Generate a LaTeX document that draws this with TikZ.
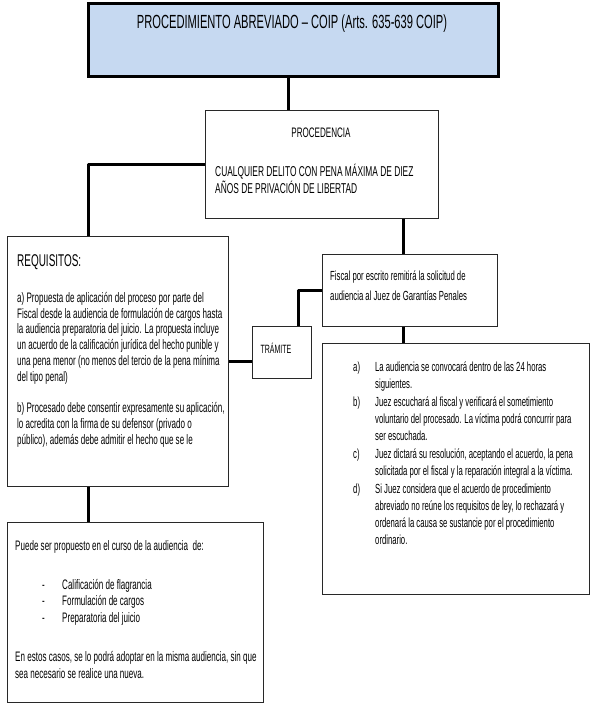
\documentclass[tikz,border=0pt]{standalone}
\usepackage{fontspec}
\setmainfont[FakeStretch=0.586]{Liberation Sans}
\usetikzlibrary{calc}
\definecolor{titlefill}{RGB}{198,217,241}
\definecolor{boxline}{RGB}{40,40,40}
\newcommand{\topstrut}[1]{\rule{0pt}{#1}}
\begin{document}
\begin{tikzpicture}[x=1pt,y=-1pt,
  box/.style={draw=boxline,line width=1.4pt,inner sep=0pt,anchor=north west,fill=white},
  link/.style={line width=3pt,draw=black,line join=round},
  txt/.style={inner sep=0pt,anchor=north west,align=left,text=black},
  lbl/.style={inner sep=0pt,text=black}
]
\fill[white] (0,0) rectangle (591,709);
\useasboundingbox (0,0) rectangle (591,709);

% boxes
\node[box,line width=3pt,draw=black,fill=titlefill,minimum width=410pt,minimum height=73pt] (title) at (87,2) {};
\node[box,minimum width=233pt,minimum height=108pt] (proc) at (205,110) {};
\node[box,minimum width=221pt,minimum height=250pt] (req) at (7,236) {};
\node[box,minimum width=175pt,minimum height=72pt] (fisc) at (322,254) {};
\node[box,minimum width=59pt,minimum height=52pt] (tram) at (252,326) {};
\node[box,minimum width=267pt,minimum height=251pt] (list) at (322,343) {};
\node[box,minimum width=256pt,minimum height=180pt] (bot) at (7,522) {};

% connectors
\coordinate (c1) at ([xshift=-5pt]title.south);
\draw[link] (c1) -- (c1 |- proc.north);
\coordinate (c2) at ($(req.north west)+(81,0)$);
\draw[link] (proc.west) -| (c2);
\coordinate (c3) at ([xshift=-6.5pt]fisc.north);
\draw[link] (c3 |- proc.south) -- (c3);
\coordinate (c5) at ([xshift=-6.5pt]fisc.south);
\draw[link] (c5) -- (c5 |- list.north);
\coordinate (c4) at ([xshift=16.5pt]tram.north);
\draw[link] (fisc.west) -| (c4);
\draw[link] (req.east) -- (req.east -| tram.west);
\draw[link] (c2 |- req.south) -- (c2 |- bot.north);

% texts
\node[lbl,font=\fontsize{19}{22}\selectfont] (t1) at (292,24) {PROCEDIMIENTO ABREVIADO – COIP (Arts. 635-639 COIP)};
\node[lbl,font=\fontsize{13.75}{16}\selectfont] (t2) at (321,133) {PROCEDENCIA};
\node[txt,font=\fontsize{14.3}{17}\selectfont] (t3) at (215,161.85) {\topstrut{14.3pt}CUALQUIER DELITO CON PENA MÁXIMA DE DIEZ\\AÑOS DE PRIVACIÓN DE LIBERTAD};
\node[lbl,font=\fontsize{17}{20}\selectfont,anchor=west] (t4) at (17,262) {REQUISITOS:};
\node[txt,font=\fontsize{13.75}{15.8}\selectfont] (t5) at (17,288.35) {\topstrut{13.75pt}a) Propuesta de aplicación del proceso por parte del\\
Fiscal desde la audiencia de formulación de cargos hasta\\
la audiencia preparatoria del juicio. La propuesta incluye\\
un acuerdo de la calificación jurídica del hecho punible y\\
una pena menor (no menos del tercio de la pena mínima\\
del tipo penal)\\[15.8pt]
b) Procesado debe consentir expresamente su aplicación,\\
lo acredita con la firma de su defensor (privado o\\
público), además debe admitir el hecho que se le};
\node[lbl,font=\fontsize{12}{14}\selectfont] (t6) at (276,348) {TRÁMITE};
\node[txt,font=\fontsize{13.2}{20}\selectfont] (t7) at (330,267.3) {\topstrut{13.2pt}Fiscal por escrito remitirá la solicitud de\\audiencia al Juez de Garantías Penales};
\node[txt,font=\fontsize{13.2}{17}\selectfont] (t8) at (353,357.8) {\topstrut{13.2pt}\makebox[22pt][l]{a)}La audiencia se convocará dentro de las 24 horas\\
\hspace*{22pt}siguientes.\\[1pt]
\makebox[22pt][l]{b)}Juez escuchará al fiscal y verificará el sometimiento\\
\hspace*{22pt}voluntario del procesado. La víctima podrá concurrir para\\
\hspace*{22pt}ser escuchada.\\[1pt]
\makebox[22pt][l]{c)}Juez dictará su resolución, aceptando el acuerdo, la pena\\
\hspace*{22pt}solicitada por el fiscal y la reparación integral a la víctima.\\[1pt]
\makebox[22pt][l]{d)}Si Juez considera que el acuerdo de procedimiento\\
\hspace*{22pt}abreviado no reúne los requisitos de ley, lo rechazará y\\
\hspace*{22pt}ordenará la causa se sustancie por el procedimiento\\
\hspace*{22pt}ordinario.};
\node[lbl,font=\fontsize{13.75}{16}\selectfont,anchor=west] (t9) at (15,547) {Puede ser propuesto en el curso de la audiencia\ \ de:};
\node[txt,font=\fontsize{13.75}{16.5}\selectfont] (t10) at (42,575.35) {\topstrut{13.75pt}\makebox[20pt][l]{-}Calificación de flagrancia\\
\makebox[20pt][l]{-}Formulación de cargos\\
\makebox[20pt][l]{-}Preparatoria del juicio};
\node[txt,font=\fontsize{13.75}{17}\selectfont] (t11) at (15,647.35) {\topstrut{13.75pt}En estos casos, se lo podrá adoptar en la misma audiencia, sin que\\
sea necesario se realice una nueva.};
\end{tikzpicture}
\end{document}
